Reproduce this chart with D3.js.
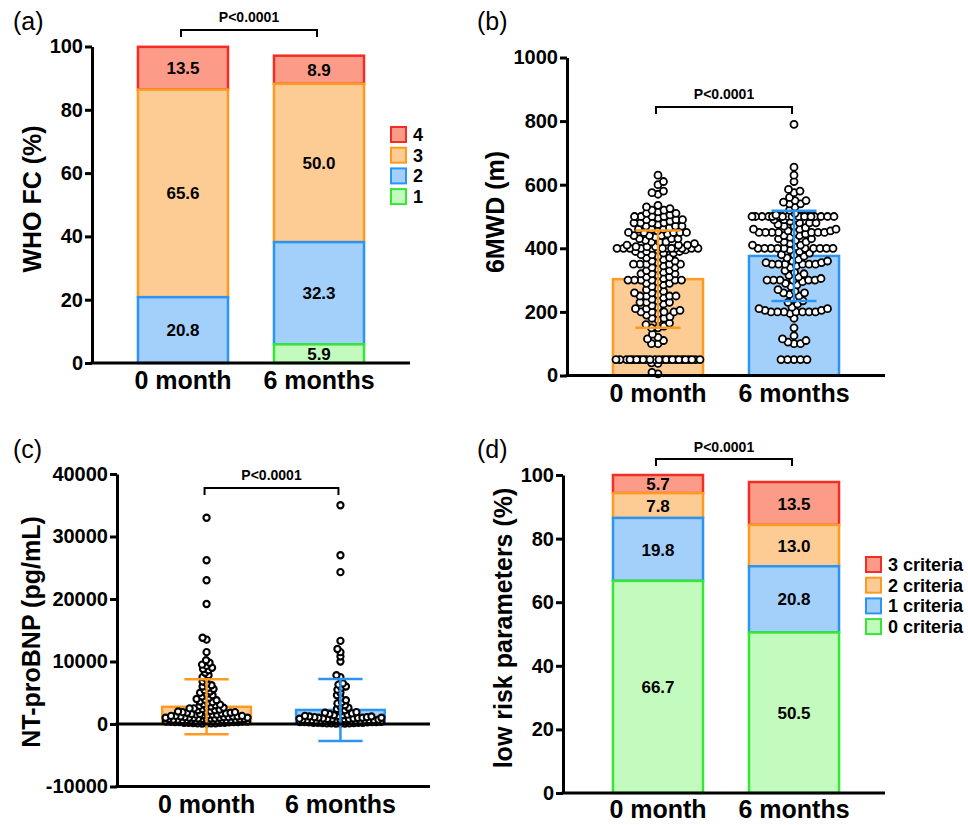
<!DOCTYPE html>
<html>
<head>
<meta charset="utf-8">
<script src="https://cdn.jsdelivr.net/npm/d3@7"></script>
<style>
body { margin: 0; background: #fff; }
</style>
</head>
<body>
<script>
var cats = ["0 month", "6 months"];

// (a) WHO functional class, % of patients
var whoKeys = ["1", "2", "3", "4"];
var who1 = [0, 5.9];
var who2 = [20.8, 32.3];
var who3 = [65.6, 50.0];
var who4 = [13.5, 8.9];

// (d) number of low risk criteria met, % of patients
var riskKeys = ["0 criteria", "1 criteria", "2 criteria", "3 criteria"];
var risk0 = [66.7, 50.5];
var risk1 = [19.8, 20.8];
var risk2 = [7.8, 13.0];
var risk3 = [5.7, 13.5];

// (b) 6MWD, mean and SD bars plus individual patients
var walkMean = [303, 376];
var walkSD = [153, 142];
var walk0 = [5, 10, 38, 40,
  50, 50, 50, 50, 50, 50, 50, 50, 50, 50, 50, 50, 50, 50, 50, 50, 50, 50, 50, 50, 50, 50, 50, 50,
  100, 100, 110, 115, 120, 130,
  150, 150, 155, 160, 165, 175, 180, 180, 185, 190, 195,
  200, 200, 200, 200, 205, 210, 210, 215, 220, 225, 230, 230, 230, 235, 240, 245, 250, 250, 250, 250, 255, 260, 260, 265, 270, 275,
  280, 285, 290, 290, 295, 300, 300, 300, 300, 300, 300,
  305, 310, 310, 315, 320, 320, 320, 325, 330, 330, 335, 340, 340, 345, 350, 350, 350, 350, 350, 355, 360, 360, 365, 370, 370, 375,
  380, 380, 385, 385,
  390, 390, 390, 395, 395, 400, 400, 400, 400, 400, 400, 400, 400, 400, 400, 400, 400,
  405, 405, 405, 410, 410, 410, 415, 420, 420, 420, 425, 430, 430, 430, 435, 440, 440, 440, 445, 450, 450, 450, 450, 450, 455, 460, 460, 460,
  465, 470, 470, 470, 475, 480, 480, 480, 480, 485, 490, 490, 490, 495, 500, 500, 500, 500,
  505, 510, 510, 515, 520, 520, 525, 530, 535,
  570, 575, 580, 600, 610, 630];
var walk6 = [50, 50, 50, 50, 50,
  100, 100, 105, 110, 115, 125, 150, 180,
  195, 200, 200, 200, 200, 200, 200, 200, 205, 205, 210, 210, 215, 225, 230, 235, 240, 250, 255, 260, 260, 265, 270, 280, 285, 290, 295,
  300, 300, 300, 300, 300, 300, 305, 310, 315, 320, 325, 330, 340, 345, 350, 350, 350, 350, 350, 350, 355, 355, 360, 360, 365, 370, 375,
  380, 380, 385, 390, 395,
  400, 400, 400, 400, 400, 400, 400, 400, 400, 400, 405, 410, 410, 415, 420, 420, 425, 430, 430, 435, 440, 440, 445,
  450, 450, 450, 450, 450, 450, 450, 450, 455, 455, 460, 460, 460, 465, 470, 470, 475, 480, 480, 480, 485, 490, 490, 495,
  500, 500, 500, 500, 500, 500, 500, 500, 500, 500, 500, 500, 500, 500, 500, 500, 500, 500,
  505, 510, 520, 530, 540, 540, 545, 550, 550, 560, 575, 580, 585, 610, 630, 655, 790];

// (c) NT-proBNP, mean and SD bars plus individual patients
var bnpMean = [2750, 2250];
var bnpSD = [4400, 4950];
var bnp0 = [33000, 26200, 23000, 19200, 13800, 13500, 11500, 10200, 9800, 9500, 9300, 9000, 8800, 8600, 8200, 7800, 7500, 7200,
  6800, 6500, 6200, 6000, 5800, 5600, 5400, 5200, 5000, 4800, 4600, 4400, 4200, 4000, 3900, 3800, 3600, 3500, 3400, 3200, 3100, 3000,
  2900, 2800, 2700, 2600, 2500, 2500, 2400, 2300, 2200, 2200, 2100, 2000, 2000, 1900, 1900, 1800, 1800, 1700, 1700, 1600, 1600,
  1500, 1500, 1500, 1400, 1400, 1300, 1300, 1300, 1200, 1200, 1200, 1100, 1100, 1100, 1000, 1000, 1000, 1000, 950, 900, 900, 900,
  850, 800, 800, 800, 750, 700, 700, 700, 650, 600, 600, 600, 600, 550, 500, 500, 500, 500, 450, 400, 400, 400, 400, 350,
  300, 300, 300, 300, 250, 200, 200, 200, 200, 150, 100, 100, 100, 80, 60];
var bnp6 = [35000, 27000, 24300, 13300, 12000, 11500, 10800, 10000, 7800, 7500, 6500, 6300, 6000, 5800, 5500, 5000, 4600, 4200,
  3800, 3500, 3300, 3000, 2800, 2600, 2400, 2200, 2000, 1900, 1800, 1700, 1600, 1500, 1400, 1400, 1300, 1300, 1200, 1200, 1100, 1100,
  1000, 1000, 1000, 950, 900, 900, 850, 800, 800, 800, 750, 700, 700, 700, 650, 600, 600, 600, 600, 550, 500, 500, 500, 500,
  450, 450, 400, 400, 400, 400, 350, 350, 300, 300, 300, 300, 250, 250, 200, 200, 200, 200, 150, 150, 100, 100, 100, 80, 60, 50];

var pctTicks = [0, 20, 40, 60, 80, 100];
var walkTicks = [0, 200, 400, 600, 800, 1000];
var bnpTicks = [-10000, 0, 10000, 20000, 30000, 40000];

var fills = ["#c3fbbf", "#a3cffb", "#fdcc95", "#fc9c88"];
var strokes = ["#35e635", "#2c95f2", "#fd9a22", "#f42d24"];
var font = '"Liberation Sans", Arial, Helvetica, sans-serif';

var svg = d3.select("body")
    .append("svg")
    .attr("width", 968)
    .attr("height", 825)
    .style("display", "block");

function txt(x, y, s, size, weight, anchor) {
    return svg.append("text")
        .attr("x", x).attr("y", y)
        .attr("text-anchor", anchor || "start")
        .style("font-family", font)
        .style("font-size", size + "px")
        .style("font-weight", weight || "normal")
        .attr("fill", "#000")
        .text(s);
}

// axes, base lines, category labels and y title of one panel
function frame(x, y, ticks, o) {
    var ax = svg.append("g")
        .attr("transform", "translate(" + o.ax + ",0)")
        .call(d3.axisLeft(y).tickValues(ticks).tickSize(7).tickSizeOuter(0).tickPadding(2)
            .tickFormat(function (d) { return String(d); }));
    ax.select(".domain").attr("stroke", "#000").attr("stroke-width", 3);
    ax.selectAll(".tick line").attr("stroke", "#000").attr("stroke-width", 3);
    ax.selectAll(".tick text")
        .attr("fill", "#000")
        .style("font-family", font)
        .style("font-size", "20px")
        .style("font-weight", "bold");

    o.base.forEach(function (v) {
        svg.append("line")
            .attr("x1", o.ax - 1.5).attr("x2", o.right)
            .attr("y1", y(v)).attr("y2", y(v))
            .attr("stroke", "#000").attr("stroke-width", 3);
    });

    cats.forEach(function (c) {
        txt(x(c) + x.bandwidth() / 2, o.labelY, c, 25, "bold", "middle");
    });

    txt(0, 0, o.title, 25, "bold", "middle")
        .attr("dy", "0.35em")
        .attr("transform", "translate(" + o.titleX + "," + o.titleY + ") rotate(-90)");

    txt(o.letterX, o.letterY, o.letter, 25);
}

function bracket(x, yLine, yText) {
    var x1 = x(cats[0]) + x.bandwidth() / 2 - 2;
    var x2 = x(cats[1]) + x.bandwidth() / 2 - 2;
    svg.append("path")
        .attr("d", "M" + x1 + "," + (yLine + 7) + "V" + yLine + "H" + x2 + "V" + (yLine + 7))
        .attr("fill", "none").attr("stroke", "#000").attr("stroke-width", 2);
    txt((x1 + x2) / 2, yText, "P<0.0001", 14, "bold", "middle");
}

function stacked(x, y, keys, rows, legend) {
    var series = d3.stack().keys(keys)(rows);
    series.slice().reverse().forEach(function (s) {
        svg.append("g").selectAll("rect")
            .data(s.filter(function (d) { return d[1] > d[0]; }))
            .enter().append("rect")
            .attr("x", function (d) { return x(d.data.cat); })
            .attr("y", function (d) { return y(d[1]); })
            .attr("width", x.bandwidth())
            .attr("height", function (d) { return y(d[0]) - y(d[1]); })
            .attr("fill", fills[s.index])
            .attr("stroke", strokes[s.index])
            .attr("stroke-width", 2.5);
    });
    series.forEach(function (s) {
        s.forEach(function (d) {
            if (d[1] <= d[0]) return;
            txt(x(d.data.cat) + x.bandwidth() / 2, (y(d[0]) + y(d[1])) / 2, (d[1] - d[0]).toFixed(1), 17, "bold", "middle")
                .attr("dy", "0.36em");
        });
    });
    keys.slice().reverse().forEach(function (k, i) {
        var idx = keys.length - 1 - i;
        var top = legend.y + i * 20.7;
        svg.append("rect")
            .attr("x", legend.x).attr("y", top)
            .attr("width", 15).attr("height", 15)
            .attr("fill", fills[idx]).attr("stroke", strokes[idx]).attr("stroke-width", 2);
        txt(legend.x + 22, top + 14, k, 18, "bold");
    });
}

// beeswarm: put each point as close to the centre as it can go without overlap
function swarm(vals, y, gap, halfW) {
    var pts = [];
    vals.slice().sort(d3.ascending).forEach(function (v, i) {
        var py = y(v), bestX = 0, bestS = Infinity;
        var near = pts.filter(function (p) { return Math.abs(p.y - py) < gap; });
        var sgn = i % 2 ? -1 : 1;
        for (var k = 0; k <= halfW * 2; k++) {
            var cands = k === 0 ? [0] : [sgn * k / 2, -sgn * k / 2];
            cands.forEach(function (c) {
                var s = 0;
                near.forEach(function (p) {
                    s = Math.max(s, gap - Math.hypot(p.x - c, p.y - py));
                });
                if (s < bestS - 1e-6) { bestS = s; bestX = c; }
            });
            if (bestS <= 0) break;
        }
        pts.push({ x: bestX, y: py });
    });
    return pts;
}

function dotBars(x, y, means, sds, groups, r, gap, sw) {
    var bw = x.bandwidth();
    cats.forEach(function (c, i) {
        svg.append("rect")
            .attr("x", x(c)).attr("y", y(means[i]))
            .attr("width", bw).attr("height", y(0) - y(means[i]))
            .attr("fill", fills[i === 0 ? 2 : 1])
            .attr("stroke", strokes[i === 0 ? 2 : 1])
            .attr("stroke-width", 2.5);
    });
    cats.forEach(function (c, i) {
        var cx = x(c) + bw / 2;
        svg.append("g").selectAll("circle")
            .data(swarm(groups[i], y, gap, bw / 2 - 3))
            .enter().append("circle")
            .attr("cx", function (d) { return cx + d.x; })
            .attr("cy", function (d) { return d.y; })
            .attr("r", r)
            .attr("fill", "#fff")
            .attr("stroke", "#000")
            .attr("stroke-width", sw);
    });
    cats.forEach(function (c, i) {
        var cx = x(c) + bw / 2, col = strokes[i === 0 ? 2 : 1];
        var lo = y(means[i] - sds[i]), hi = y(means[i] + sds[i]);
        svg.append("path")
            .attr("d", "M" + cx + "," + lo + "V" + hi +
                "M" + (cx - bw / 4) + "," + hi + "H" + (cx + bw / 4) +
                "M" + (cx - bw / 4) + "," + lo + "H" + (cx + bw / 4))
            .attr("fill", "none").attr("stroke", col).attr("stroke-width", 2.5);
    });
}

// ---- (a) WHO FC ----
var xa = d3.scaleBand().domain(cats).range([92, 410]).paddingInner(0.338).paddingOuter(0.338);
var ya = d3.scaleLinear().domain([0, 100]).range([363, 46.5]);
stacked(xa, ya, whoKeys, cats.map(function (c, i) {
    return { cat: c, "1": who1[i], "2": who2[i], "3": who3[i], "4": who4[i] };
}), { x: 391, y: 127 });
frame(xa, ya, pctTicks, { ax: 92, right: 410, base: [0], labelY: 389, title: "WHO FC (%)",
    titleX: 32, titleY: 199, letter: "(a)", letterX: 13, letterY: 30 });
bracket(xa, 30, 22);

// ---- (b) 6MWD ----
var xb = d3.scaleBand().domain(cats).range([567, 885]).paddingInner(0.338).paddingOuter(0.338);
var yb = d3.scaleLinear().domain([0, 1000]).range([375.5, 57.5]);
dotBars(xb, yb, walkMean, walkSD, [walk0, walk6], 3.5, 6.2, 1.8);
frame(xb, yb, walkTicks, { ax: 567, right: 885, base: [0], labelY: 402, title: "6MWD (m)",
    titleX: 495, titleY: 212, letter: "(b)", letterX: 477, letterY: 30 });
bracket(xb, 107, 99);

// ---- (c) NT-proBNP ----
var xc = d3.scaleBand().domain(cats).range([117, 430]).paddingInner(0.338).paddingOuter(0.338);
var yc = d3.scaleLinear().domain([-10000, 40000]).range([786.5, 474]);
dotBars(xc, yc, bnpMean, bnpSD, [bnp0, bnp6], 3.1, 4.2, 2.1);
frame(xc, yc, bnpTicks, { ax: 117, right: 430, base: [0, -10000], labelY: 813, title: "NT-proBNP (pg/mL)",
    titleX: 31, titleY: 632, letter: "(c)", letterX: 13, letterY: 458 });
bracket(xc, 488, 480);

// ---- (d) low risk parameters ----
var xd = d3.scaleBand().domain(cats).range([567, 885]).paddingInner(0.338).paddingOuter(0.338);
var yd = d3.scaleLinear().domain([0, 100]).range([793, 475]);
stacked(xd, yd, riskKeys, cats.map(function (c, i) {
    return { cat: c, "0 criteria": risk0[i], "1 criteria": risk1[i], "2 criteria": risk2[i], "3 criteria": risk3[i] };
}), { x: 866, y: 557 });
frame(xd, yd, pctTicks, { ax: 563, right: 885, base: [0], labelY: 818, title: "low risk parameters (%)",
    titleX: 503, titleY: 628, letter: "(d)", letterX: 477, letterY: 458 });
bracket(xd, 459, 452);
</script>
</body>
</html>
